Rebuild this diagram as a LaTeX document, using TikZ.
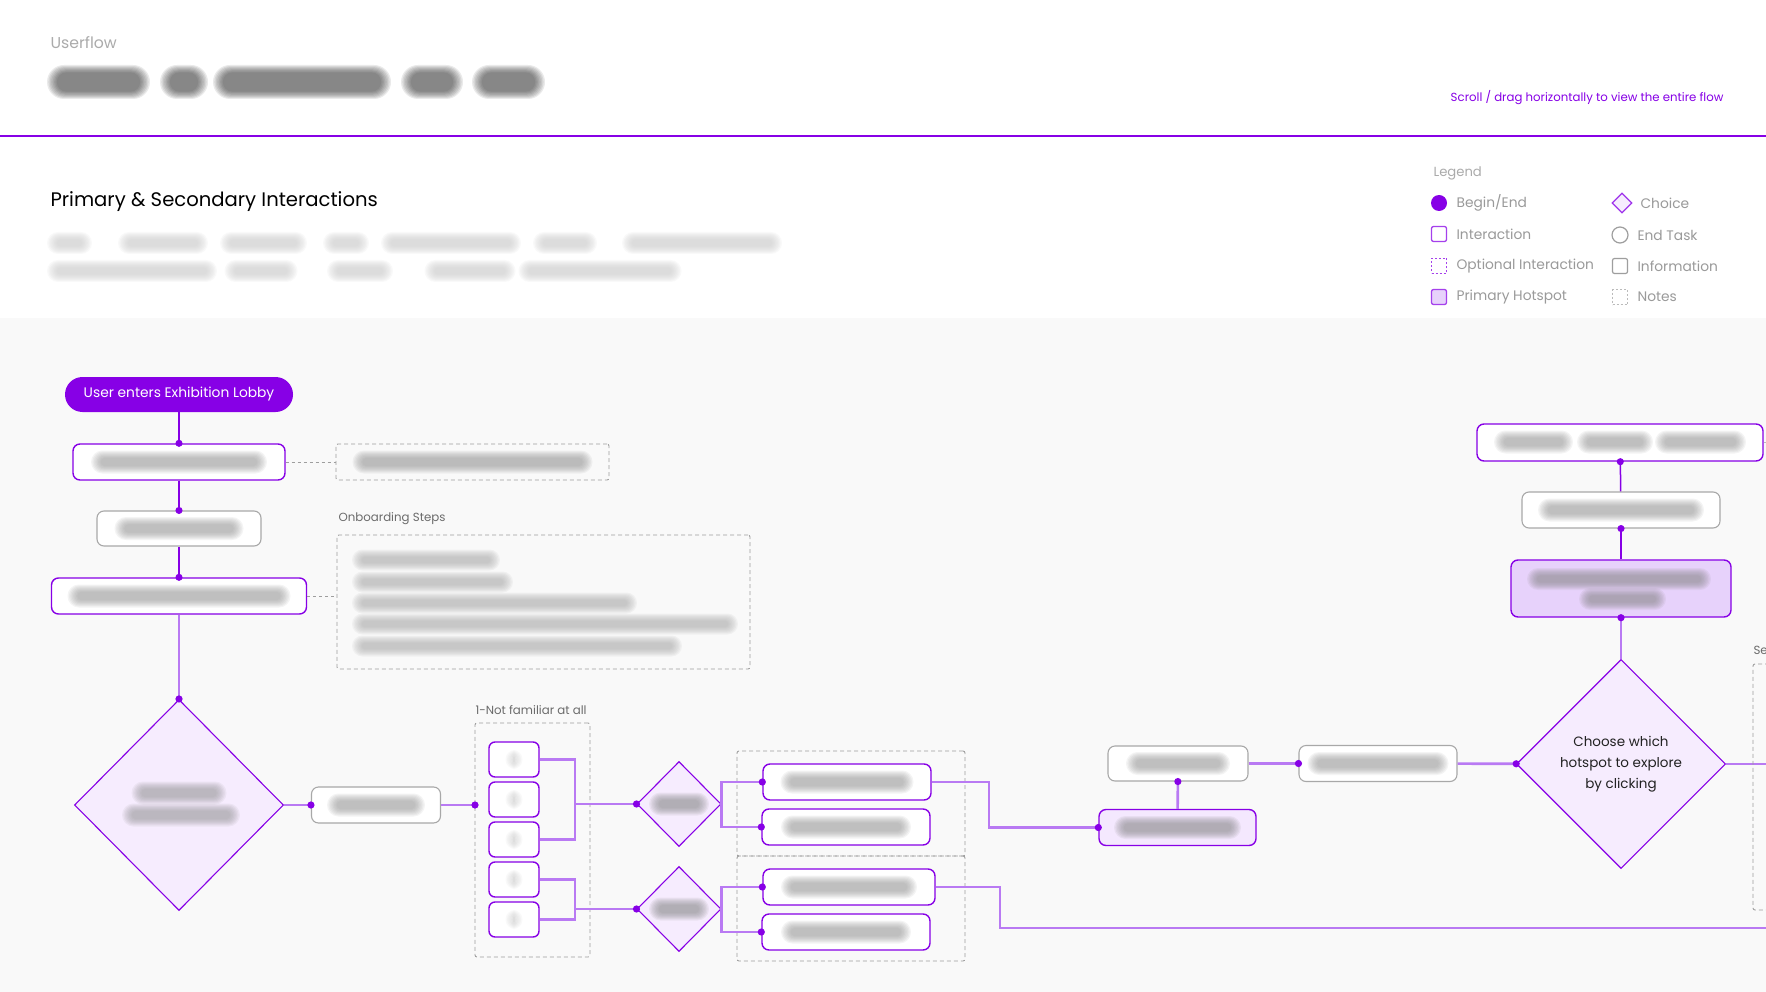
\documentclass[tikz,border=0pt]{standalone}
\usepackage{fontspec}
\setmainfont{Poppins}
\usetikzlibrary{shapes.geometric,arrows.meta}

\definecolor{fpurple}{HTML}{8700E6}
\definecolor{flink}{HTML}{B97AF3}
\definecolor{fchoice}{HTML}{F6ECFE}
\definecolor{fhot}{HTML}{E7D2FB}
\definecolor{fhotlight}{HTML}{F4E8FE}
\definecolor{fbg}{HTML}{F9F9F9}
\definecolor{fgrayline}{HTML}{A8A8A8}
\definecolor{fnote}{HTML}{9E9E9E}
\definecolor{ftext}{HTML}{222222}
\definecolor{flabel}{HTML}{6B6B6B}
\definecolor{flegend}{HTML}{9A9A9A}
\definecolor{fkicker}{HTML}{ABABAB}

% soft grey bar standing in for blurred copy
\newcommand\blurbar[4]{%
  \begin{scope}[shift={#1}]
    \foreach \k in {0,...,7}{
      \pgfmathsetmacro\bw{#2/2-1.4*\k}
      \pgfmathsetmacro\bh{#3/2-1.05*\k}
      \fill[#4,opacity=.1,rounded corners=\bh pt] (-\bw,-\bh) rectangle (\bw,\bh);
    }
  \end{scope}}

\begin{document}
\begin{tikzpicture}[x=1pt,y=-1pt,
  interact/.style={draw=fpurple,line width=1.4pt,fill=white,rounded corners=7pt,inner sep=0pt},
  info/.style={draw=fgrayline,line width=1.1pt,fill=white,rounded corners=7pt,inner sep=0pt},
  hotspot/.style={draw=fpurple,line width=1.4pt,fill=fhot,rounded corners=7pt,inner sep=0pt},
  choice/.style={diamond,draw=fpurple,line width=1.1pt,fill=fchoice,inner sep=0pt},
  notebox/.style={draw=fnote,line width=0.9pt,dash pattern=on 4pt off 3pt,rounded corners=2pt,inner sep=0pt},
  link/.style={draw=flink,line width=2.6pt},
  linkdark/.style={draw=fpurple,line width=1.5pt},
  notelink/.style={draw=fnote,line width=0.9pt,dash pattern=on 3pt off 3pt},
  dotend/.style={-{Circle[length=7pt,width=7pt,color=fpurple]},shorten >=-3.5pt},
  lgtext/.style={anchor=west,text=flegend,font=\fontsize{13.8}{16}\selectfont},
  smalllabel/.style={anchor=west,text=flabel,font=\fontsize{11.8}{14}\selectfont}]
\clip (0,0) rectangle (1766,992);
\useasboundingbox (0,0) rectangle (1766,992);

% header
\fill[white] (0,0) rectangle (1766,318);
\fill[fbg] (0,318) rectangle (1766,992);
\node[anchor=west,text=fkicker,font=\fontsize{15.7}{19}\selectfont] (kicker) at (47,43) {Userflow};
\blurbar{(98.5,82)}{103}{34}{black!80}
\blurbar{(184,82)}{48}{34}{black!80}
\blurbar{(302,82)}{178}{34}{black!80}
\blurbar{(432,82)}{62}{34}{black!80}
\blurbar{(508.5,82)}{73}{34}{black!80}
\node[anchor=east,text=fpurple,font=\fontsize{11.75}{14}\selectfont] (hint) at (1727,98) {Scroll / drag horizontally to view the entire flow};
\draw[fpurple,line width=2.5pt] (0,136) -- (1766,136);
\node[anchor=west,text=black,font=\fontsize{19.6}{23}\selectfont] (heading) at (47,202) {Primary \& Secondary Interactions};
\blurbar{(69.5,243)}{45}{22}{black!22}
\blurbar{(163,243)}{90}{22}{black!22}
\blurbar{(263.5,243)}{87}{22}{black!22}
\blurbar{(346,243)}{46}{22}{black!22}
\blurbar{(451,243)}{140}{22}{black!22}
\blurbar{(565,243)}{64}{22}{black!22}
\blurbar{(702,243)}{160}{22}{black!22}
\blurbar{(132,271)}{170}{22}{black!22}
\blurbar{(261,271)}{73}{22}{black!22}
\blurbar{(360,271)}{66}{22}{black!22}
\blurbar{(470,271)}{91}{22}{black!22}
\blurbar{(600,271)}{163}{22}{black!22}

% legend
\node[anchor=west,text=fkicker,font=\fontsize{13.2}{16}\selectfont] (lgTitle) at (1430,173) {Legend};
\node[circle,fill=fpurple,minimum size=16pt,inner sep=0pt] (lgBegin) at (1439,203) {};
\node[draw=fpurple!75,line width=1.3pt,fill=white,rounded corners=2pt,minimum size=15pt,inner sep=0pt] (lgInter) at (1439,234) {};
\node[draw=fpurple!75,line width=1.3pt,dash pattern=on 2pt off 2pt,minimum size=15pt,inner sep=0pt] (lgOpt) at (1439,266) {};
\node[draw=fpurple!75,line width=1.3pt,fill=fhot,rounded corners=2pt,minimum size=15pt,inner sep=0pt] (lgHot) at (1439,297) {};
\node[diamond,draw=fpurple!80,line width=1.2pt,fill=fchoice,minimum size=20pt,inner sep=0pt] (lgChoice) at (1622,203) {};
\node[circle,draw=fnote,line width=1.2pt,minimum size=16pt,inner sep=0pt] (lgEnd) at (1620,235) {};
\node[draw=fnote,line width=1.2pt,rounded corners=2pt,minimum size=15pt,inner sep=0pt] (lgInfo) at (1620,266) {};
\node[draw=fnote!70,line width=1.2pt,dash pattern=on 2pt off 2pt,minimum size=15pt,inner sep=0pt] (lgNotes) at (1620,297) {};
\node[lgtext] (lgBeginT) at (1453,203) {Begin/End};
\node[lgtext] (lgInterT) at (1453,234) {Interaction};
\node[lgtext] (lgOptT) at (1453,266) {Optional Interaction};
\node[lgtext] (lgHotT) at (1453,297) {Primary Hotspot};
\node[lgtext] (lgChoiceT) at (1637,203) {Choice};
\node[lgtext] (lgEndT) at (1634,235) {End Task};
\node[lgtext] (lgInfoT) at (1634,266) {Information};
\node[lgtext] (lgNotesT) at (1634,297) {Notes};

% left column
\node[fill=fpurple,text=white,rounded corners=17.5pt,minimum width=228pt,minimum height=35pt,inner sep=0pt,font=\fontsize{13.8}{16}\selectfont] (start) at (179,394.5) {User enters Exhibition Lobby};
\node[interact,minimum width=212pt,minimum height=36pt] (b1) at (179,462) {};
\blurbar{(b1)}{176}{23}{black!42}
\node[notebox,minimum width=273pt,minimum height=36pt] (n1) at (472.5,462) {};
\blurbar{(n1)}{240}{23}{black!42}
\node[info,minimum width=164pt,minimum height=35pt] (b2) at (179,528.5) {};
\blurbar{(b2)}{129}{23}{black!42}
\node[interact,minimum width=255pt,minimum height=36pt] (b3) at (179,596) {};
\blurbar{(b3)}{223}{23}{black!42}
\node[smalllabel] (n2lbl) at (335,519) {Onboarding Steps};
\node[notebox,minimum width=413pt,minimum height=134pt] (n2) at (543.5,602) {};
\blurbar{(426,560)}{148}{21}{black!34}
\blurbar{(432.5,582)}{161}{21}{black!34}
\blurbar{(494.5,603)}{285}{21}{black!34}
\blurbar{(545,624)}{386}{21}{black!34}
\blurbar{(517,646)}{330}{21}{black!34}
\node[choice,minimum width=209pt,minimum height=211pt] (dm) at (179,805) {};
\blurbar{(179,793)}{95}{23}{black!42}
\blurbar{(181,815)}{118}{23}{black!42}

\draw[linkdark,dotend] (start) -- (b1);
\draw[linkdark,dotend] (b1) -- (b2);
\draw[linkdark,dotend] (b2) -- (b3);
\draw[link,dotend] (b3) -- (dm);
\draw[notelink] (b1.east) -- (n1.west);
\draw[notelink] (b3.east) -- (b3.east -| n2.west);

% level picker
\node[info,minimum width=129pt,minimum height=36pt] (sel) at (376,805) {};
\blurbar{(sel)}{98}{23}{black!42}
\node[smalllabel] (grplbl) at (472,710) {1-Not familiar at all};
\node[notebox,minimum width=115pt,minimum height=234pt] (grp) at (532.5,840) {};
\coordinate (grpin) at (475,805);
\node[interact,rounded corners=6pt,minimum width=50pt,minimum height=35pt] (s1) at (514,759.5) {};
\node[interact,rounded corners=6pt,minimum width=50pt,minimum height=35pt] (s2) at (514,799.5) {};
\node[interact,rounded corners=6pt,minimum width=50pt,minimum height=35pt] (s3) at (514,839.5) {};
\node[interact,rounded corners=6pt,minimum width=50pt,minimum height=35pt] (s4) at (514,879.5) {};
\node[interact,rounded corners=6pt,minimum width=50pt,minimum height=35pt] (s5) at (514,919.5) {};
\blurbar{(s1)}{17}{19}{black!22}
\blurbar{(s2)}{17}{19}{black!22}
\blurbar{(s3)}{17}{19}{black!22}
\blurbar{(s4)}{17}{19}{black!22}
\blurbar{(s5)}{17}{19}{black!22}
\coordinate (br1) at (575,804);
\coordinate (br2) at (575,909);
\draw[link,dotend] (dm) -- (sel);
\draw[link,dotend] (sel) -- (grpin);
\draw[link] (s1.east) -| (br1) |- (s3.east);
\draw[link] (s4.east) -| (br2) |- (s5.east);

% familiarity choices
\node[choice,minimum width=84pt,minimum height=85pt] (d1) at (679,804) {};
\node[choice,minimum width=84pt,minimum height=85pt] (d2) at (679,909) {};
\blurbar{(d1)}{60}{23}{black!48}
\blurbar{(d2)}{60}{23}{black!48}
\draw[link,dotend] (br1) -- (d1);
\draw[link,dotend] (br2) -- (d2);
\node[notebox,minimum width=228pt,minimum height=105pt] (gA) at (851,803.5) {};
\node[notebox,minimum width=228pt,minimum height=105pt] (gB) at (851,908.5) {};
\node[interact,minimum width=168pt,minimum height=36pt] (bA) at (847,782) {};
\node[interact,minimum width=168pt,minimum height=36pt] (bB) at (846,827) {};
\node[interact,minimum width=172pt,minimum height=36pt] (bC) at (849,887) {};
\node[interact,minimum width=168pt,minimum height=36pt] (bD) at (846,932) {};
\blurbar{(bA)}{133}{23}{black!42}
\blurbar{(bB)}{130}{23}{black!42}
\blurbar{(bC)}{136}{23}{black!42}
\blurbar{(bD)}{130}{23}{black!42}
\draw[link,dotend] (d1.east) |- (bA.west);
\draw[link,dotend] (d1.east) |- (bB.west);
\draw[link,dotend] (d2.east) |- (bC.west);
\draw[link,dotend] (d2.east) |- (bD.west);

% rooms
\node[hotspot,fill=fhotlight,minimum width=157pt,minimum height=36pt] (hr) at (1177.5,827.5) {};
\blurbar{(hr)}{127}{23}{black!48}
\node[info,minimum width=140pt,minimum height=35pt] (ri1) at (1178,763.5) {};
\blurbar{(ri1)}{104}{23}{black!42}
\node[info,minimum width=158pt,minimum height=36pt] (ri2) at (1378,763.5) {};
\blurbar{(ri2)}{141}{23}{black!42}
\coordinate (jA) at (989,827.5);
\coordinate (jC) at (1000,928);
\coordinate (endC) at (1790,928);
\draw[link,dotend] (bA.east) -| (jA) -- (hr.west);
\draw[link] (bC.east) -| (jC) -- (endC);
\draw[link,dotend] (hr) -- (ri1);
\draw[link,dotend] (ri1) -- (ri2);

% hotspot choice and right column
\node[choice,minimum width=209pt,minimum height=209pt,align=center,text=ftext,font=\fontsize{13.5}{21}\selectfont] (bd) at (1621,764) {Choose which\\hotspot to explore\\by clicking};
\node[hotspot,minimum width=220pt,minimum height=57pt] (rh) at (1621,588.5) {};
\blurbar{(1619,579)}{184}{22}{black!48}
\blurbar{(1622.5,599)}{87}{22}{black!48}
\node[info,minimum width=198pt,minimum height=36pt] (ri) at (1621,510) {};
\blurbar{(ri)}{166}{23}{black!42}
\node[interact,minimum width=286pt,minimum height=37pt] (rt) at (1620,442.5) {};
\blurbar{(1533.5,442)}{79}{23}{black!42}
\blurbar{(1615,442)}{76}{23}{black!42}
\blurbar{(1700.5,442)}{91}{23}{black!42}
\coordinate (endD) at (1790,764);
\coordinate (endT) at (1790,442.5);
\draw[link,dotend] (ri2) -- (bd);
\draw[link] (bd.east) -- (endD);
\draw[link,dotend] (bd) -- (rh);
\draw[linkdark,dotend] (rh) -- (ri);
\draw[linkdark,dotend] (ri) -- (rt);
\draw[fnote!70,line width=1pt] (rt.east) -- (endT);
\node[smalllabel] (selbl) at (1750,650) {Se};
\draw[notebox] (1790,664) -- (1753,664) -- (1753,910) -- (1790,910);
\end{tikzpicture}
\end{document}
